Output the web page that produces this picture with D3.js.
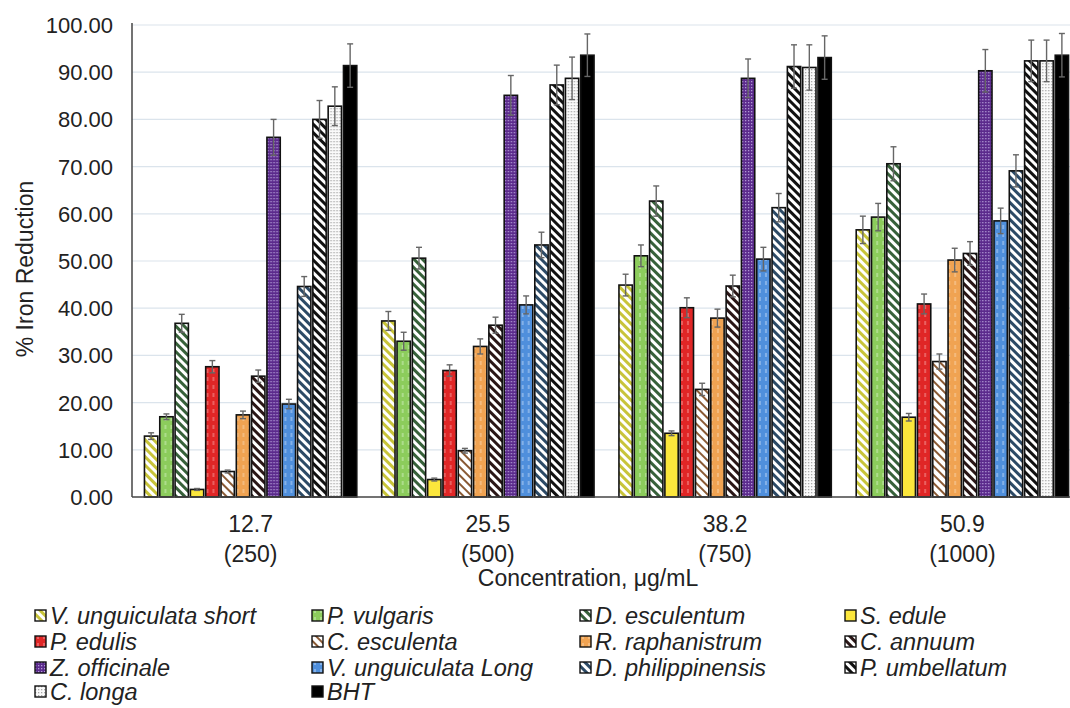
<!DOCTYPE html>
<html>
<head>
<meta charset="utf-8">
<script src="https://cdn.jsdelivr.net/npm/d3@7"></script>
<style>
  body { margin: 0; background: #fff; }
  text { font-family: Arial, "Liberation Sans", sans-serif; fill: #222; }
</style>
</head>
<body>
<div id="chart"></div>
<script>

  var categories = [ "12.7", "25.5", "38.2", "50.9" ];
  var subLabels = [ "(250)", "(500)", "(750)", "(1000)" ];
  var yTicks = [ 0, 10, 20, 30, 40, 50, 60, 70, 80, 90, 100 ];

  var seriesNames = [
    "V. unguiculata short", "P. vulgaris", "D. esculentum", "S. edule",
    "P. edulis", "C. esculenta", "R. raphanistrum", "C. annuum",
    "Z. officinale", "V. unguiculata Long", "D. philippinensis", "P. umbellatum",
    "C. longa", "BHT"
  ];

  // one row per series, one value per concentration
  var values = [
    [ 12.9, 37.3, 44.9, 56.6 ],
    [ 17.0, 33.0, 51.1, 59.3 ],
    [ 36.8, 50.6, 62.7, 70.6 ],
    [ 1.6, 3.7, 13.5, 16.9 ],
    [ 27.6, 26.8, 40.1, 40.9 ],
    [ 5.4, 9.8, 22.8, 28.7 ],
    [ 17.4, 31.9, 37.9, 50.2 ],
    [ 25.6, 36.4, 44.7, 51.6 ],
    [ 76.2, 85.1, 88.7, 90.3 ],
    [ 19.7, 40.7, 50.4, 58.5 ],
    [ 44.6, 53.4, 61.3, 69.1 ],
    [ 80.0, 87.3, 91.2, 92.4 ],
    [ 82.8, 88.7, 91.0, 92.4 ],
    [ 91.4, 93.6, 93.1, 93.6 ]
  ];

  var errors = [
    [ 0.7, 2.0, 2.3, 2.9 ],
    [ 0.6, 1.9, 2.3, 2.9 ],
    [ 1.9, 2.3, 3.2, 3.6 ],
    [ 0.2, 0.3, 0.5, 0.8 ],
    [ 1.3, 1.2, 2.1, 2.1 ],
    [ 0.3, 0.5, 1.3, 1.6 ],
    [ 0.8, 1.6, 1.9, 2.5 ],
    [ 1.3, 1.7, 2.3, 2.5 ],
    [ 3.8, 4.2, 4.1, 4.5 ],
    [ 1.0, 1.9, 2.5, 2.7 ],
    [ 2.1, 2.7, 3.0, 3.4 ],
    [ 4.0, 4.2, 4.6, 4.4 ],
    [ 4.1, 4.5, 4.8, 4.4 ],
    [ 4.6, 4.5, 4.6, 4.6 ]
  ];

  // fill style per series: kind, base colour, mark colour
  var fills = [
    { kind : "stripe", bg : "#fff", fg : "#c8c43a" },
    { kind : "dash",   bg : "#8ccc5c", fg : "#cfeebb" },
    { kind : "stripe", bg : "#fff", fg : "#37613a" },
    { kind : "solid",  bg : "#fbe63c" },
    { kind : "dash",   bg : "#e02626", fg : "#f59a9a" },
    { kind : "stripe", bg : "#fff", fg : "#8a5a34", thin : true },
    { kind : "dash",   bg : "#f0a352", fg : "#f8d3aa" },
    { kind : "stripe", bg : "#fff", fg : "#2a1616" },
    { kind : "dots",   bg : "#5b2a8c", fg : "#b29ad6" },
    { kind : "dash",   bg : "#4f8fdc", fg : "#b9d4f4" },
    { kind : "stripe", bg : "#fff", fg : "#2c4a66" },
    { kind : "stripe", bg : "#fff", fg : "#111" },
    { kind : "dots",   bg : "#fafafa", fg : "#a8a8a8" },
    { kind : "solid",  bg : "#000" }
  ];

  var width = 1070, height = 708;
  var plot = { left : 132, right : 1081, top : 25, bottom : 497 };

  var svg = d3.select("#chart").append("svg")
    .attr("width", width).attr("height", height);

  var defs = svg.append("defs");

  fills.forEach( function( f, i ) {
    if( f.kind == "solid" ) return;
    var p = defs.append("pattern")
      .attr("id", "pat" + i)
      .attr("patternUnits", "userSpaceOnUse");
    if( f.kind == "stripe" ) {
      p.attr("width", 6).attr("height", 6).attr("patternTransform", "rotate(-45)");
      p.append("rect").attr("width", 6).attr("height", 6).attr("fill", f.bg);
      p.append("rect").attr("width", f.thin ? 2 : 3).attr("height", 6).attr("fill", f.fg);
    } else if( f.kind == "dash" ) {
      p.attr("width", 6).attr("height", 8);
      p.append("rect").attr("width", 6).attr("height", 8).attr("fill", f.bg);
      p.append("rect").attr("x", 2.5).attr("y", 1).attr("width", 1).attr("height", 4).attr("fill", f.fg);
    } else {
      p.attr("width", 3).attr("height", 3);
      p.append("rect").attr("width", 3).attr("height", 3).attr("fill", f.bg);
      p.append("rect").attr("width", 1.3).attr("height", 1.3).attr("fill", f.fg);
    }
  } );

  function fillOf( i ) {
    return fills[ i ].kind == "solid" ? fills[ i ].bg : "url(#pat" + i + ")";
  }

  var y = d3.scaleLinear().domain([ 0, 100 ]).range([ plot.bottom, plot.top ]);

  var x0 = d3.scaleBand().domain( categories )
    .range([ plot.left, plot.right ])
    .paddingInner( 0.105 ).paddingOuter( 0.0525 );

  var x1 = d3.scaleBand().domain( d3.range( seriesNames.length ) )
    .range([ 0, x0.bandwidth() ])
    .paddingInner( 0.13 );

  // gridlines
  svg.append("g").selectAll("line")
    .data( yTicks.slice( 1 ) )
    .enter().append("line")
    .attr("x1", plot.left).attr("x2", width)
    .attr("y1", function( d ) { return y( d ); })
    .attr("y2", function( d ) { return y( d ); })
    .attr("stroke", "#dbe4ec").attr("stroke-width", 1.2);

  // bars
  var groups = svg.append("g").selectAll("g")
    .data( categories )
    .enter().append("g")
    .attr("transform", function( d ) { return "translate(" + x0( d ) + ",0)"; });

  groups.each( function( cat, ci ) {
    var g = d3.select( this );
    seriesNames.forEach( function( name, si ) {
      var v = values[ si ][ ci ];
      g.append("rect")
        .attr("x", x1( si ))
        .attr("y", y( v ))
        .attr("width", x1.bandwidth())
        .attr("height", y( 0 ) - y( v ))
        .attr("fill", fillOf( si ))
        .attr("stroke", "#111").attr("stroke-width", 1.6);
    } );
  } );

  // error bars
  groups.each( function( cat, ci ) {
    var g = d3.select( this );
    seriesNames.forEach( function( name, si ) {
      var v = values[ si ][ ci ], e = errors[ si ][ ci ];
      var cx = x1( si ) + x1.bandwidth() / 2;
      var eb = g.append("g").attr("stroke", "#666").attr("stroke-width", 1.4);
      eb.append("line").attr("x1", cx).attr("x2", cx).attr("y1", y( v - e )).attr("y2", y( v + e ));
      eb.append("line").attr("x1", cx - 3).attr("x2", cx + 3).attr("y1", y( v + e )).attr("y2", y( v + e ));
      eb.append("line").attr("x1", cx - 3).attr("x2", cx + 3).attr("y1", y( v - e )).attr("y2", y( v - e ));
    } );
  } );

  // axes
  svg.append("line")
    .attr("x1", plot.left).attr("x2", plot.left)
    .attr("y1", plot.top - 2).attr("y2", plot.bottom)
    .attr("stroke", "#444").attr("stroke-width", 1.5);
  svg.append("line")
    .attr("x1", plot.left).attr("x2", width)
    .attr("y1", plot.bottom).attr("y2", plot.bottom)
    .attr("stroke", "#444").attr("stroke-width", 1.5);

  svg.append("g").selectAll("text")
    .data( yTicks )
    .enter().append("text")
    .attr("x", 113)
    .attr("y", function( d ) { return y( d ); })
    .attr("dy", "0.36em")
    .attr("text-anchor", "end")
    .attr("font-size", 22)
    .text( function( d ) { return d.toFixed( 2 ); } );

  svg.append("g").selectAll("text")
    .data( categories )
    .enter().append("text")
    .attr("x", function( d ) { return x0( d ) + x0.bandwidth() / 2; })
    .attr("y", 532)
    .attr("text-anchor", "middle")
    .attr("font-size", 23)
    .text( function( d ) { return d; } );

  svg.append("g").selectAll("text")
    .data( subLabels )
    .enter().append("text")
    .attr("x", function( d, i ) { return x0( categories[ i ] ) + x0.bandwidth() / 2; })
    .attr("y", 562)
    .attr("text-anchor", "middle")
    .attr("font-size", 23)
    .text( function( d ) { return d; } );

  svg.append("text")
    .attr("x", 588).attr("y", 586)
    .attr("text-anchor", "middle")
    .attr("font-size", 23)
    .text("Concentration, μg/mL");

  svg.append("text")
    .attr("transform", "translate(33,269) rotate(-90)")
    .attr("text-anchor", "middle")
    .attr("font-size", 23)
    .text("% Iron Reduction");

  // legend, four columns
  var legendX = [ 35, 312, 580, 845 ];
  var legendY = [ 616, 642, 668, 692 ];

  var legend = svg.append("g").selectAll("g")
    .data( seriesNames )
    .enter().append("g")
    .attr("transform", function( d, i ) {
      return "translate(" + legendX[ i % 4 ] + "," + legendY[ Math.floor( i / 4 ) ] + ")";
    });

  legend.append("rect")
    .attr("x", 0).attr("y", -6).attr("width", 11).attr("height", 11)
    .attr("fill", function( d, i ) { return fillOf( i ); })
    .attr("stroke", "#111").attr("stroke-width", 1.4);

  legend.append("text")
    .attr("x", 15).attr("y", 0).attr("dy", "0.36em")
    .attr("font-size", 23.5).attr("font-style", "italic")
    .text( function( d ) { return d; } );

</script>
</body>
</html>
